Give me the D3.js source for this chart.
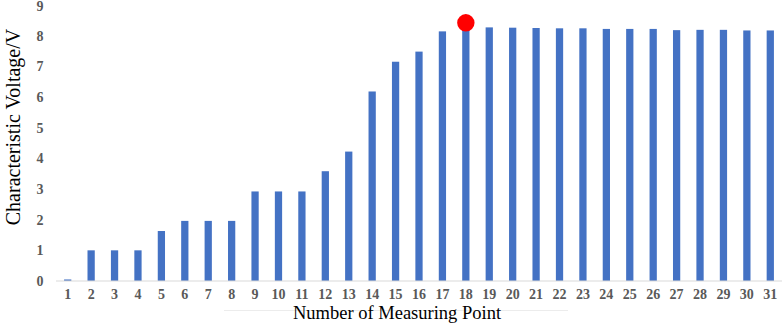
<!DOCTYPE html>
<html>
<head>
<meta charset="utf-8">
<script src="https://cdn.jsdelivr.net/npm/d3@7"></script>
<style>
  body { margin: 0; background: #fff; }
  svg { display: block; }
</style>
</head>
<body>
<svg id="chart"></svg>
<script>
// measuring points and voltages
const points = d3.range(1, 32).map(String);
const voltages = [
  0.05, 1.0, 1.0, 1.0, 1.63, 1.96, 1.96, 1.96, 2.92, 2.92,
  2.92, 3.58, 4.22, 6.18, 7.15, 7.48, 8.14, 8.3, 8.27, 8.26,
  8.25, 8.24, 8.24, 8.22, 8.22, 8.22, 8.18, 8.19, 8.19, 8.17,
  8.17
];
const yTicks = [0, 1, 2, 3, 4, 5, 6, 7, 8, 9];
// highlighted point (red dot)
const markPoint = '18';
const markValue = 8.42;

const width = 782, height = 324;
const svg = d3.select('#chart').attr('width', width).attr('height', height);

const x = d3.scaleBand()
  .domain(points)
  .range([56, 782])
  .paddingInner(0.69)
  .paddingOuter(0.345);

const y = d3.scaleLinear()
  .domain([0, 9])
  .range([281, 5]);

// bars
svg.append('g')
  .selectAll('rect')
  .data(points)
  .join('rect')
  .attr('x', d => x(d))
  .attr('width', x.bandwidth())
  .attr('y', (d, i) => y(voltages[i]))
  .attr('height', (d, i) => y(0) - y(voltages[i]))
  .attr('fill', '#4472C4');

// baseline
svg.append('line')
  .attr('x1', 56).attr('x2', 782)
  .attr('y1', y(0)).attr('y2', y(0))
  .attr('stroke', '#d9d9d9')
  .attr('stroke-width', 1);

const tickFont = '"Liberation Serif", "Times New Roman", serif';

// y tick labels
svg.append('g')
  .selectAll('text')
  .data(yTicks)
  .join('text')
  .attr('x', 40)
  .attr('y', d => Math.max(y(d), 6))
  .attr('dy', '0.35em')
  .attr('text-anchor', 'middle')
  .style('font-family', tickFont)
  .style('font-weight', 'bold')
  .style('font-size', '14px')
  .style('fill', '#595959')
  .text(d => d);

// x tick labels
svg.append('g')
  .selectAll('text')
  .data(points)
  .join('text')
  .attr('x', d => x(d) + x.bandwidth() / 2)
  .attr('y', 294)
  .attr('dy', '0.35em')
  .attr('text-anchor', 'middle')
  .style('font-family', tickFont)
  .style('font-weight', 'bold')
  .style('font-size', '14px')
  .style('fill', '#595959')
  .text(d => d);

// faint text box border from the original figure
svg.append('line')
  .attr('x1', 224).attr('x2', 568)
  .attr('y1', 310.5).attr('y2', 310.5)
  .attr('stroke', '#ececec');

// red marker
svg.append('circle')
  .attr('cx', x(markPoint) + x.bandwidth() / 2)
  .attr('cy', y(markValue))
  .attr('r', 8.7)
  .attr('fill', '#FF0000');

// axis titles
svg.append('text')
  .attr('transform', `translate(20, 127) rotate(-90)`)
  .attr('text-anchor', 'middle')
  .style('font-family', tickFont)
  .style('font-size', '20px')
  .style('fill', '#000')
  .text('Characteristic Voltage/V');

svg.append('text')
  .attr('x', 397)
  .attr('y', 319)
  .attr('text-anchor', 'middle')
  .style('font-family', tickFont)
  .style('font-size', '18.5px')
  .style('fill', '#000')
  .text('Number of Measuring Point');
</script>
</body>
</html>
